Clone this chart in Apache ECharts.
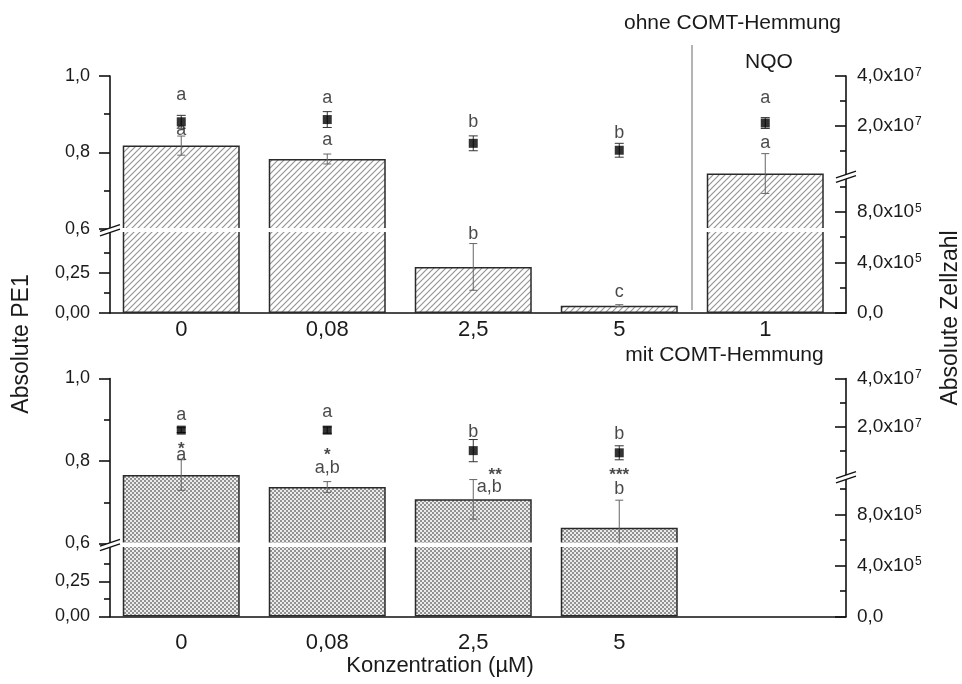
<!DOCTYPE html>
<html>
<head>
<meta charset="utf-8">
<script src="https://cdn.jsdelivr.net/npm/echarts@6/dist/echarts.min.js"></script>
<style>
  html, body { margin: 0; padding: 0; background: #fff; }
  #main { width: 962px; height: 684px; }
</style>
</head>
<body>
<div id="main"></div>
<script>
// x positions of the groups and their tick labels
const xPos = [1, 2, 3, 4, 5];
const xLabelsTop = ['0', '0,08', '2,5', '5', '1'];
const xLabelsBottom = ['0', '0,08', '2,5', '5'];

// ohne COMT-Hemmung (last group = NQO 1 µM)
const pe1Ohne = [0.818, 0.783, 0.288, 0.046, 0.745];
const pe1OhneErr = [0.025, 0.013, 0.146, 0.006, 0.052];
const zellOhne = [2.15e7, 2.24e7, 1.28e7, 1.0e7, 2.1e7];
const zellOhneErr = [2.6e6, 3.2e6, 3.0e6, 2.8e6, 2.2e6];

// mit COMT-Hemmung
const pe1Mit = [0.766, 0.737, 0.707, 0.638];
const pe1MitErr = [0.037, 0.013, 0.048, 0.067];
const zellMit = [1.86e7, 1.86e7, 1.01e7, 9.2e6];
const zellMitErr = [1.0e6, 1.3e6, 4.6e6, 2.9e6];

// significance letters: [x, position in PE1 units, text]
const lettersOhne = [
  [1, 0.95, 'a'], [1, 0.858, 'a'],
  [2, 0.943, 'a'], [2, 0.832, 'a'],
  [3, 0.88, 'b'], [3, 0.496, 'b'],
  [4, 0.85, 'b'], [4, 0.133, 'c'],
  [5, 0.943, 'a'], [5, 0.824, 'a']
];
const lettersMit = [
  [1, 0.911, 'a'], [1, 0.841, '*'], [1, 0.8145, 'a'],
  [2, 0.919, 'a'], [2, 0.826, '*'], [2, 0.782, 'a,b'],
  [3, 0.871, 'b'], [3.15, 0.778, '**'], [3.11, 0.737, 'a,b'],
  [4, 0.865, 'b'], [4, 0.778, '***'], [4, 0.731, 'b']
];

const FONT = 'Liberation Sans, Arial, sans-serif';
const INK = '#1a1a1a';
const axisStyle = { color: '#111', width: 1.6 };

function hatchPattern() {
  const c = document.createElement('canvas');
  c.width = 6; c.height = 6;
  const ctx = c.getContext('2d');
  ctx.fillStyle = '#fff';
  ctx.fillRect(0, 0, 6, 6);
  ctx.strokeStyle = '#959595';
  ctx.lineWidth = 1.2;
  ctx.beginPath();
  ctx.moveTo(0, 6); ctx.lineTo(6, 0);
  ctx.moveTo(-1, 1); ctx.lineTo(1, -1);
  ctx.moveTo(5, 7); ctx.lineTo(7, 5);
  ctx.stroke();
  return c;
}

function checkPattern() {
  const c = document.createElement('canvas');
  c.width = 4; c.height = 4;
  const ctx = c.getContext('2d');
  ctx.fillStyle = '#ececec';
  ctx.fillRect(0, 0, 4, 4);
  ctx.fillStyle = '#929292';
  ctx.fillRect(0, 0, 2, 2);
  ctx.fillRect(2, 2, 2, 2);
  return c;
}

const hatch = hatchPattern();
const check = checkPattern();

function grid(top, height) {
  return { left: 110, right: 116, top: top, height: height, outerBoundsMode: 'none' };
}

function xAxis(k, labels) {
  const show = !!labels;
  return {
    type: 'value', gridIndex: k, min: 0.512, max: 5.553,
    axisLine: { show: show, onZero: false, lineStyle: axisStyle },
    axisTick: { show: false },
    splitLine: { show: false },
    axisLabel: {
      show: show,
      customValues: show ? xPos.slice(0, labels.length) : undefined,
      margin: k === 1 ? 6 : 15,
      fontSize: 22, color: INK, fontFamily: FONT,
      formatter: v => (show && Math.abs(v - Math.round(v)) < 1e-6) ? (labels[Math.round(v) - 1] || '') : ''
    }
  };
}

function hasTick(ticks, v) {
  return ticks.some(t => Math.abs(t - v) < 1e-9 * Math.max(1, Math.abs(t)));
}

function yLeft(k, min, max, interval, ticks, dec) {
  return {
    type: 'value', gridIndex: k, position: 'left', min: min, max: max, interval: interval,
    axisLine: { show: true, lineStyle: axisStyle },
    axisTick: { show: true, length: 11, customValues: ticks, lineStyle: axisStyle },
    minorTick: { show: true, splitNumber: 2, length: 6, lineStyle: axisStyle },
    axisLabel: {
      customValues: ticks, margin: 20, fontSize: 18, color: INK, fontFamily: FONT,
      formatter: v => hasTick(ticks, v) ? v.toFixed(dec).replace('.', ',') : ''
    },
    splitLine: { show: false }
  };
}

function sci(v) {
  if (v === 0) return '{m|0,0}';
  const e = Math.floor(Math.log10(v) + 1e-9);
  const m = (v / Math.pow(10, e)).toFixed(1).replace('.', ',');
  return '{m|' + m + 'x10}{s|' + e + '}';
}

function yRight(k, min, max, interval, ticks) {
  return {
    type: 'value', gridIndex: k, position: 'right', min: min, max: max, interval: interval,
    axisLine: { show: true, lineStyle: axisStyle },
    axisTick: { show: true, inside: true, length: 11, customValues: ticks, lineStyle: axisStyle },
    minorTick: { show: true, splitNumber: 2, length: 6, lineStyle: axisStyle },
    axisLabel: {
      customValues: ticks, margin: 11, color: INK, fontFamily: FONT,
      formatter: v => hasTick(ticks, v) ? sci(v) : '',
      rich: {
        m: { fontSize: 19, fontFamily: FONT, color: INK, lineHeight: 19 },
        s: { fontSize: 12, fontFamily: FONT, color: INK, lineHeight: 12, verticalAlign: 'top', padding: [0, 0, 14, 1] }
      }
    },
    splitLine: { show: false }
  };
}

function errBar(color, w) {
  return function (params, api) {
    const x = api.value(0), y = api.value(1), e = api.value(2);
    const a = api.coord([x, y + e]);
    const b = api.coord([x, y - e]);
    const st = { stroke: color, lineWidth: 1 };
    return {
      type: 'group',
      children: [
        { type: 'line', shape: { x1: a[0], y1: a[1], x2: b[0], y2: b[1] }, style: st },
        { type: 'line', shape: { x1: a[0] - w, y1: a[1], x2: a[0] + w, y2: a[1] }, style: st },
        { type: 'line', shape: { x1: b[0] - w, y1: b[1], x2: b[0] + w, y2: b[1] }, style: st }
      ]
    };
  };
}

function letterSeries(k, items) {
  return {
    type: 'scatter', xAxisIndex: k, yAxisIndex: k, z: 6, silent: true,
    symbolSize: 1, itemStyle: { color: 'rgba(0,0,0,0)' },
    data: items.map(l => ({
      value: [l[0], l[1]], name: l[2],
      label: l[2].indexOf('*') >= 0 ? { offset: [0, 5], fontSize: 17, fontWeight: 'bold' } : undefined
    })),
    label: { show: true, position: 'inside', formatter: p => p.name, fontSize: 18, color: INK, fontFamily: FONT }
  };
}

function panelSeries(g, pe1, pe1Err, zell, zellErr, letters, pattern) {
  const barData = pe1.map((v, i) => [xPos[i], v]);
  const errData = pe1.map((v, i) => [xPos[i], v, pe1Err[i]]);
  const pts = zell.map((v, i) => [xPos[i], v]);
  const ptsErr = zell.map((v, i) => [xPos[i], v, zellErr[i]]);
  const s = [];
  [g, g + 1].forEach(k => {
    s.push({
      type: 'bar', xAxisIndex: k, yAxisIndex: k, data: barData, barWidth: 117, clip: true, z: 2, silent: true,
      itemStyle: { color: { image: pattern, repeat: 'repeat' }, borderColor: '#2a2a2a', borderWidth: 1.5 }
    });
    s.push({
      type: 'custom', xAxisIndex: k, yAxisIndex: k, data: errData, clip: true, z: 4, silent: true,
      renderItem: errBar('#666', 4)
    });
  });
  s.push({
    type: 'custom', xAxisIndex: g + 2, yAxisIndex: g + 2, data: ptsErr, clip: true, z: 5, silent: true,
    renderItem: errBar('#333', 4.5)
  });
  s.push({
    type: 'scatter', xAxisIndex: g + 2, yAxisIndex: g + 2, data: pts, symbol: 'rect', symbolSize: 9, z: 5,
    itemStyle: { color: '#000' }, silent: true
  });
  s.push(letterSeries(g, letters.filter(l => l[1] >= 0.6)));
  s.push(letterSeries(g + 1, letters.filter(l => l[1] < 0.6)));
  return s;
}

function breakMark(cx, cy) {
  const pts = [[cx - 10, cy + 3.3], [cx + 10, cy - 3.3]];
  const up = -2, dn = 2.5;
  const st = { stroke: '#111', lineWidth: 1.4 };
  return {
    type: 'group', z: 7, children: [
      { type: 'polygon', z: 7, shape: { points: [[pts[0][0], pts[0][1] + up], [pts[1][0], pts[1][1] + up], [pts[1][0], pts[1][1] + dn], [pts[0][0], pts[0][1] + dn]] }, style: { fill: '#fff' } },
      { type: 'line', z: 7, shape: { x1: pts[0][0], y1: pts[0][1] + up, x2: pts[1][0], y2: pts[1][1] + up }, style: st },
      { type: 'line', z: 7, shape: { x1: pts[0][0], y1: pts[0][1] + dn, x2: pts[1][0], y2: pts[1][1] + dn }, style: st }
    ]
  };
}

function label(text, x, y, size, rot) {
  return {
    type: 'text', x: x, y: y, rotation: rot || 0, z: 8,
    style: {
      text: text, x: 0, y: 0, font: size + 'px ' + FONT, fill: INK,
      textAlign: 'center', align: 'center', textVerticalAlign: 'middle', verticalAlign: 'middle'
    }
  };
}

const chartDom = document.getElementById('main');
const myChart = echarts.init(chartDom);

const option = {
  animation: false,
  backgroundColor: '#fff',
  textStyle: { fontFamily: FONT },
  grid: [
    grid(76, 153), grid(231, 82), grid(76, 99), grid(178, 135),
    grid(378.5, 165), grid(546, 70.5), grid(378.5, 96.5), grid(479, 137.5)
  ],
  xAxis: [
    xAxis(0), xAxis(1, xLabelsTop), xAxis(2), xAxis(3),
    xAxis(4), xAxis(5, xLabelsBottom), xAxis(6), xAxis(7)
  ],
  yAxis: [
    yLeft(0, 0.6, 1.0, 0.2, [0.6, 0.8, 1.0], 1),
    yLeft(1, 0, 82 / 160, 0.25, [0, 0.25], 2),
    yRight(2, 0, 4e7, 2e7, [2e7, 4e7]),
    yRight(3, 0, 135 / 50.65 * 4e5, 4e5, [0, 4e5, 8e5]),
    yLeft(4, 0.6, 1.0, 0.2, [0.6, 0.8, 1.0], 1),
    yLeft(5, 0, 70.5 / 140, 0.25, [0, 0.25], 2),
    yRight(6, 0, 4e7, 2e7, [2e7, 4e7]),
    yRight(7, 0, 137.5 / 51 * 4e5, 4e5, [0, 4e5, 8e5])
  ],
  graphic: {
    elements: [
      // white gaps through the bars at the axis breaks
      { type: 'rect', z: 3, shape: { x: 111, y: 228, width: 734, height: 4 }, style: { fill: '#fff' } },
      { type: 'rect', z: 3, shape: { x: 111, y: 542.5, width: 734, height: 4.5 }, style: { fill: '#fff' } },
      breakMark(110, 230),
      breakMark(846, 176.5),
      breakMark(110, 544.75),
      breakMark(846, 477),
      { type: 'line', z: 8, shape: { x1: 692, y1: 45, x2: 692, y2: 310 }, style: { stroke: '#9a9a9a', lineWidth: 1.5 } },
      label('ohne COMT-Hemmung', 732.5, 23, 21),
      label('NQO', 769, 62, 21),
      label('mit COMT-Hemmung', 724.5, 355, 21),
      label('Konzentration (µM)', 440, 666, 22),
      label('Absolute PE1', 22, 344, 23, Math.PI / 2),
      label('Absolute Zellzahl', 951, 318, 23, Math.PI / 2)
    ]
  },
  series: panelSeries(0, pe1Ohne, pe1OhneErr, zellOhne, zellOhneErr, lettersOhne, hatch)
    .concat(panelSeries(4, pe1Mit, pe1MitErr, zellMit, zellMitErr, lettersMit, check))
};

option && myChart.setOption(option);
</script>
</body>
</html>
